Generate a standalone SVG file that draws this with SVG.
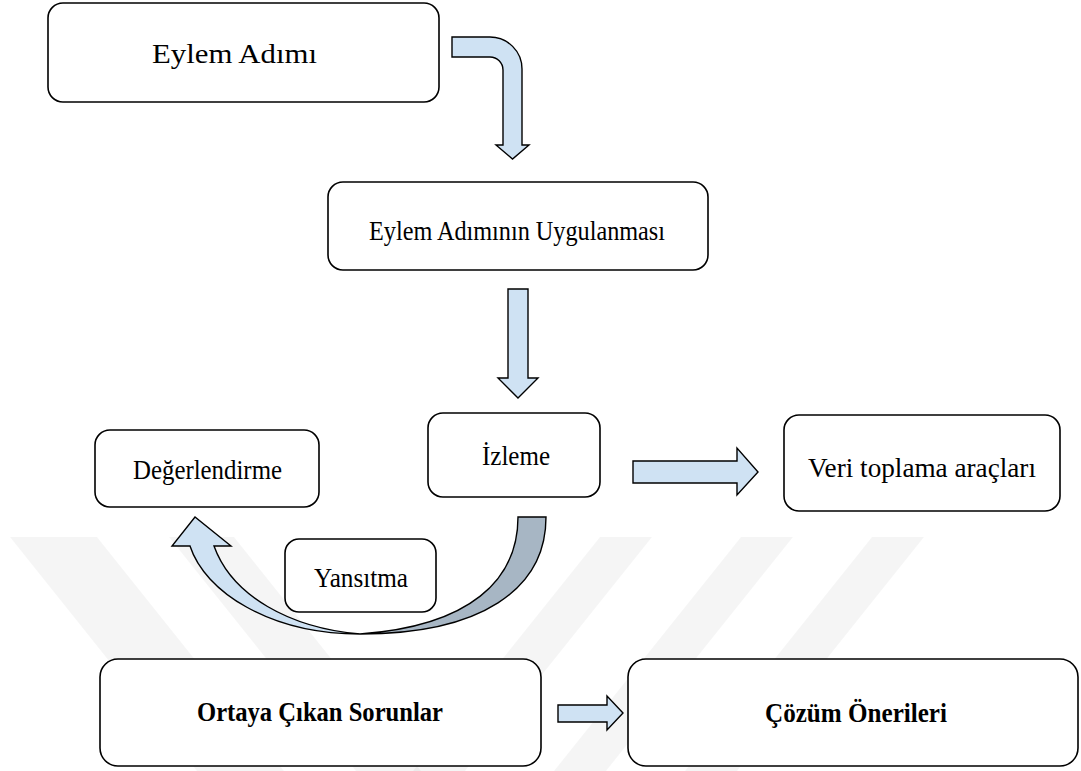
<svg xmlns="http://www.w3.org/2000/svg" width="1081" height="771" viewBox="0 0 1081 771">
<style>
.box{fill:#fff;stroke:#000;stroke-width:1.6}
.t{font-family:"Liberation Serif","Times New Roman",serif;font-size:27px;fill:#000}
.b{font-weight:bold}
.arr{fill:#cfe2f3;stroke:#000;stroke-width:1.4;stroke-linejoin:miter}
.dark{fill:#a7b6c4;stroke:#000;stroke-width:1.4}
.wm{fill:#000;fill-opacity:0.04}
</style>
<rect width="1081" height="771" fill="#fff"/>
<g id="watermark">
<polygon class="wm" points="10,537 97,537 284,771 197,771"/>
<polygon class="wm" points="169,537 234,537 421,771 356,771"/>
<polygon class="wm" points="600,537 652,537 465,771 413,771"/>
<polygon class="wm" points="741,537 793,537 606,771 554,771"/>
<polygon class="wm" points="872,537 924,537 737,771 685,771"/>
</g>
<g id="connectors">
<path class="arr" d="M452,37 H490 A32,32 0 0 1 522,69 V145 H529 L512.5,159 L496,145 H503 V70 A13,13 0 0 0 490,57 H452 Z"/>
<path class="arr" d="M508,289 H528 V378 H538 L518,398 L498,378 H508 Z"/>
<path class="arr" d="M633,461 H737 V448 L758,472 L737,495 V483 H633 Z"/>
<path class="arr" d="M558,705 H607 V696 L623,713 L607,730 V722 H558 Z"/>
<path class="dark" d="M518,517 H546 C546,590 480,634 360,634 C470,626 518,580 518,517 Z"/>
<path class="arr" d="M360,634 C270,634 205,592 190,546 H172 L195,517 L231,546 H214 C232,596 290,628 360,634 Z"/>
</g>
<g id="n1"><rect class="box" x="48" y="3" width="391" height="99" rx="15"/><text class="t" x="152" y="63" textLength="165" lengthAdjust="spacingAndGlyphs">Eylem Adımı</text></g>
<g id="n2"><rect class="box" x="328" y="182" width="380" height="88" rx="15"/><text class="t" x="517" y="240" text-anchor="middle" textLength="296" lengthAdjust="spacingAndGlyphs">Eylem Adımının Uygulanması</text></g>
<g id="n3"><rect class="box" x="428" y="413" width="172" height="84" rx="15"/><text class="t" x="482" y="465" textLength="68" lengthAdjust="spacingAndGlyphs">İzleme</text></g>
<g id="n4"><rect class="box" x="95" y="430" width="224" height="77" rx="15"/><text class="t" x="133" y="479" textLength="149" lengthAdjust="spacingAndGlyphs">Değerlendirme</text></g>
<g id="n5"><rect class="box" x="784" y="415" width="276" height="96" rx="15"/><text class="t" x="922" y="477" text-anchor="middle" textLength="228" lengthAdjust="spacingAndGlyphs">Veri toplama araçları</text></g>
<g id="n6"><rect class="box" x="285" y="539" width="151" height="73" rx="14"/><text class="t" x="314" y="587" textLength="94" lengthAdjust="spacingAndGlyphs">Yansıtma</text></g>
<g id="n7"><rect class="box" x="100" y="659" width="441" height="107" rx="18"/><text class="t b" x="197" y="721" textLength="246" lengthAdjust="spacingAndGlyphs">Ortaya Çıkan Sorunlar</text></g>
<g id="n8"><rect class="box" x="628" y="659" width="450" height="107" rx="18"/><text class="t b" x="765" y="722" textLength="182" lengthAdjust="spacingAndGlyphs">Çözüm Önerileri</text></g>
</svg>
